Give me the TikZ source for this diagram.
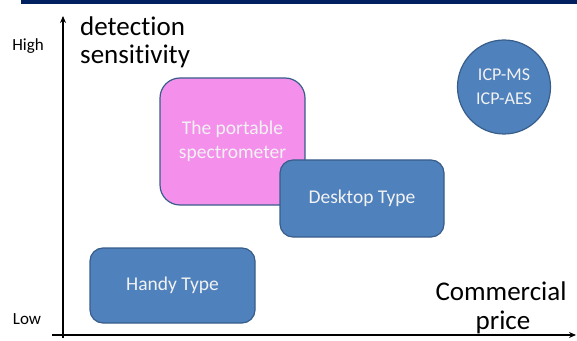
\documentclass[tikz,border=0pt]{standalone}
\usepackage{fontspec}
\setmainfont{Carlito}[Ligatures=NoCommon]
\usetikzlibrary{shapes.geometric,arrows.meta}
\definecolor{boxblue}{HTML}{4F81BD}
\definecolor{boxedge}{HTML}{385D8A}
\definecolor{boxpink}{HTML}{F490EC}
\definecolor{navy}{HTML}{002060}
\definecolor{boxtext}{HTML}{F2F2F2}
\tikzset{
  bluebox/.style={draw=boxedge, line width=1.2pt, fill=boxblue, rounded corners=13pt, text=boxtext, font=\fontsize{19.5}{24}\selectfont, align=center, inner sep=0pt},
  pinkbox/.style={bluebox, fill=boxpink, rounded corners=20pt},
  axislabel/.style={font=\fontsize{27}{30}\selectfont, text=black, inner sep=0pt},
  ticklabel/.style={font=\fontsize{17}{20}\selectfont, text=black, inner sep=0pt},
  axis/.style={line width=1.6pt, -{Stealth[length=7pt,width=6pt]}}
}
\begin{document}
\begin{tikzpicture}[x=1pt,y=1pt]
\useasboundingbox (0,0) rectangle (577,340);
\fill[navy] (21,336) rectangle (577,340);
% axes
\coordinate (yb) at (63,2);
\coordinate (yt) at (63,324);
\coordinate (xl) at (52,5);
\coordinate (xr) at (576,5);
\draw[axis] (yb) -- (yt);
\draw[axis] (xl) -- (xr);
% labels
\node[ticklabel, anchor=base] (high) at (28,289) {High};
\node[ticklabel, anchor=base] (low) at (27,16) {Low};
\node[axislabel, anchor=base west] (ylab1) at (80,304) {detection};
\node[axislabel, anchor=base west] (ylab2) at (80,276) {sensitivity};
\node[axislabel, anchor=base] (xlab1) at (501,40) {Commercial};
\node[axislabel, anchor=base] (xlab2) at (503,11) {price};
% boxes
\node[pinkbox, minimum width=145pt, minimum height=127pt] (port) at (232.5,198.5) {The portable\\spectrometer};
\node[bluebox, minimum width=164pt, minimum height=77pt] (desk) at (362,141.5) {Desktop Type};
\node[bluebox, minimum width=165pt, minimum height=75pt] (handy) at (172.5,54.5) {Handy Type};
\node[ellipse, draw=boxedge, line width=1.2pt, fill=boxblue, text=boxtext, font=\fontsize{18}{24}\selectfont, align=center, inner sep=0pt, minimum width=93pt, minimum height=94pt] (icp) at (504,253) {ICP-MS\\ICP-AES};
\end{tikzpicture}
\end{document}
